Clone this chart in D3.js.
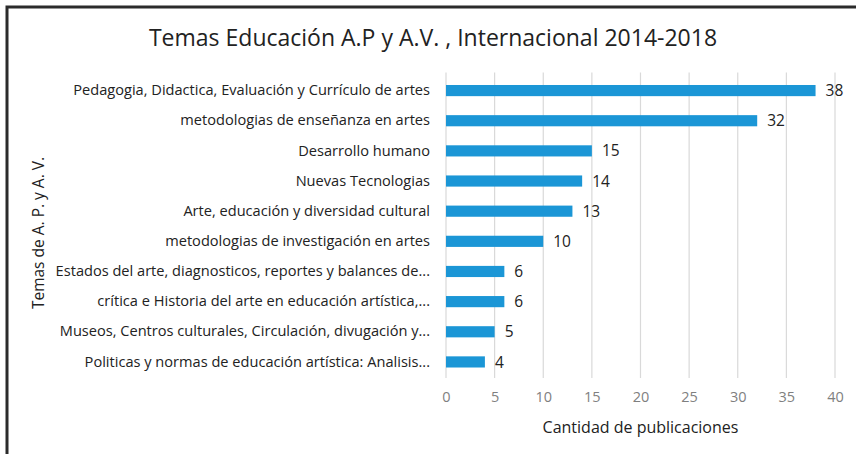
<!DOCTYPE html>
<html>
<head>
<meta charset="utf-8">
<script src="https://cdn.jsdelivr.net/npm/d3@7"></script>
<style>
  body { margin: 0; background: #fff; }
  svg text { font-family: "Open Sans", sans-serif; }
</style>
</head>
<body>
<div id="chart"></div>
<script>
// data
var temas = [
  "Pedagogia, Didactica, Evaluación y Currículo de artes",
  "metodologias de enseñanza en artes",
  "Desarrollo humano",
  "Nuevas Tecnologias",
  "Arte, educación y diversidad cultural",
  "metodologias de investigación en artes",
  "Estados del arte, diagnosticos, reportes y balances de...",
  "crítica e Historia del arte en educación artística,...",
  "Museos, Centros culturales, Circulación, divugación y...",
  "Politicas y normas de educación artística: Analisis..."
];
var publicaciones = [38, 32, 15, 14, 13, 10, 6, 6, 5, 4];
var xTicks = [0, 5, 10, 15, 20, 25, 30, 35, 40];

var W = 856, H = 454;
var margin = {top: 75.5, right: 21, bottom: 77, left: 446};
var width = W - margin.left - margin.right;
var height = H - margin.top - margin.bottom;

var svg = d3.select("#chart").append("svg")
  .attr("width", W)
  .attr("height", H);

// frame (only top and left edges are visible)
svg.append("path")
  .attr("d", "M7," + H + "V7H" + W)
  .attr("fill", "none")
  .attr("stroke", "#2b2b2b")
  .attr("stroke-width", 3);

// title
svg.append("text")
  .attr("x", 433)
  .attr("y", 46)
  .attr("text-anchor", "middle")
  .attr("font-size", 23)
  .attr("fill", "#222")
  .text("Temas Educación A.P y A.V. , Internacional 2014-2018");

var g = svg.append("g")
  .attr("transform", "translate(" + margin.left + "," + margin.top + ")");

var x = d3.scaleLinear().domain([0, 40]).range([0, width]);
var y = d3.scaleBand().domain(temas).range([0, height]).paddingInner(0.63).paddingOuter(0.315);

// gridlines
g.selectAll(".grid")
  .data(xTicks)
  .enter().append("line")
  .attr("x1", function(d) { return x(d); })
  .attr("x2", function(d) { return x(d); })
  .attr("y1", -3)
  .attr("y2", height + 1)
  .attr("stroke", "#d9d9d9")
  .attr("stroke-width", 1.2);

// bars
g.selectAll(".bar")
  .data(publicaciones)
  .enter().append("rect")
  .attr("x", x(0))
  .attr("y", function(d, i) { return y(temas[i]); })
  .attr("width", function(d) { return x(d) - x(0); })
  .attr("height", y.bandwidth())
  .attr("fill", "#1b96d6");

// value labels
g.selectAll(".val")
  .data(publicaciones)
  .enter().append("text")
  .attr("x", function(d) { return x(d) + 10; })
  .attr("y", function(d, i) { return y(temas[i]) + y.bandwidth() / 2; })
  .attr("dy", "0.36em")
  .attr("font-size", 15.5)
  .attr("fill", "#222")
  .text(function(d) { return d; });

// category axis
var yAxis = g.append("g")
  .call(d3.axisLeft(y).tickSize(0).tickPadding(16));
yAxis.select(".domain").remove();
yAxis.selectAll("text")
  .attr("font-size", 14.6)
  .attr("fill", "#222");

// value axis
var xAxis = g.append("g")
  .attr("transform", "translate(0," + height + ")")
  .call(d3.axisBottom(x).tickValues(xTicks).tickSize(0).tickPadding(15));
xAxis.select(".domain").remove();
xAxis.selectAll("text")
  .attr("font-size", 14.5)
  .attr("fill", "#7f7f7f");

// axis titles
svg.append("text")
  .attr("x", margin.left + x(20))
  .attr("y", 433)
  .attr("text-anchor", "middle")
  .attr("font-size", 16)
  .attr("fill", "#222")
  .text("Cantidad de publicaciones");

svg.append("text")
  .attr("transform", "translate(44,233) rotate(-90)")
  .attr("text-anchor", "middle")
  .attr("font-size", 15.5)
  .attr("fill", "#222")
  .text("Temas de A. P. y A. V.");
</script>
</body>
</html>
